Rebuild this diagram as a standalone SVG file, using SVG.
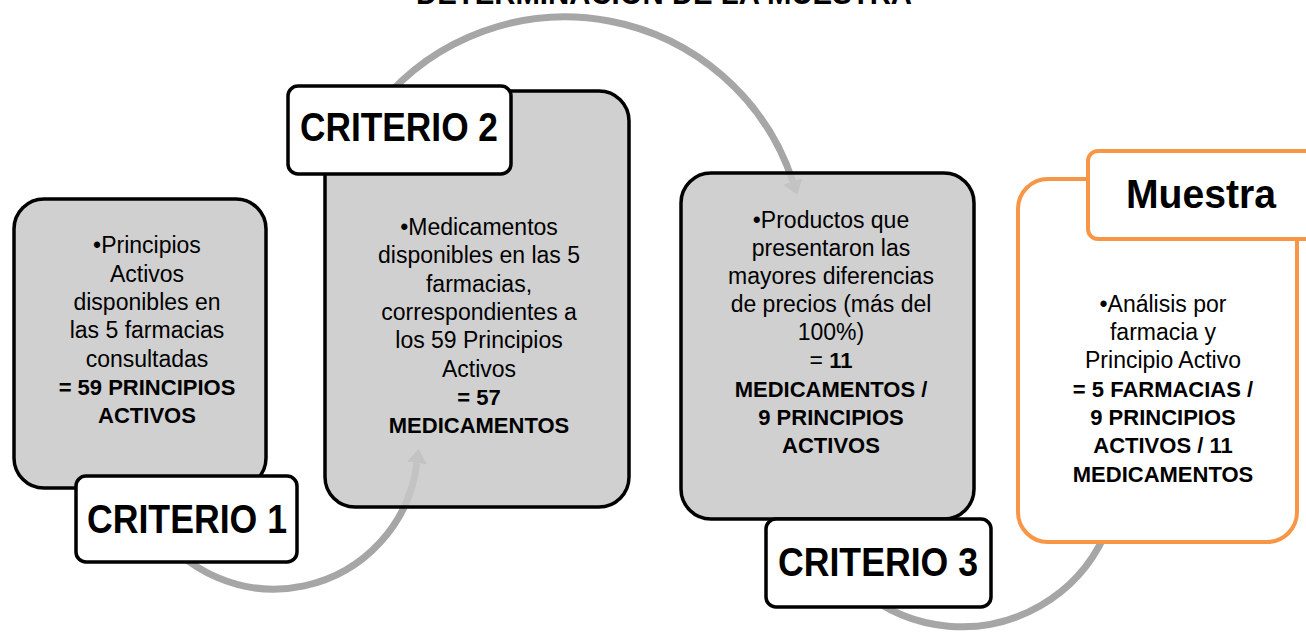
<svg xmlns="http://www.w3.org/2000/svg" width="1306" height="635" viewBox="0 0 1306 635">
<defs>
<style>
text{font-family:"Liberation Sans",Arial,sans-serif;fill:#000;text-anchor:middle}
.r{font-size:23px}
.b{font-size:22px;font-weight:bold}
.h{font-size:41px;font-weight:bold}
.box{fill:#C8C8C8;fill-opacity:0.85;stroke:#000;stroke-width:3.5}
.lab{fill:#fff;stroke:#000;stroke-width:3.5}
.obox{fill:#fff;stroke:#F79646;stroke-width:4}
.arc{fill:none;stroke:#A6A6A6;stroke-width:7}
</style>
<marker id="ah" markerUnits="userSpaceOnUse" markerWidth="14" markerHeight="20" viewBox="0 0 14 20" refX="0" refY="10" orient="auto">
<path d="M0,0 L14,10 L0,20 Z" fill="#A6A6A6"/>
</marker>
</defs>
<rect width="1306" height="635" fill="#fff"/>
<text id="title" x="664" y="3.5" font-size="32" font-weight="bold" textLength="496" lengthAdjust="spacingAndGlyphs">DETERMINACIÓN DE LA MUESTRA</text>
<g id="connectors">
<path class="arc" d="M151,520 A144,144 0 0 0 416.9,463" marker-end="url(#ah)"/>
<path class="arc" d="M380,104 A240,240 0 0 1 792.8,181.5" marker-end="url(#ah)"/>
<path class="arc" d="M861,590 A157,157 0 0 0 1116.6,442.7" marker-end="url(#ah)"/>
</g>
<g id="criterio1">
<rect class="box" x="14" y="199" width="252" height="289" rx="30"/>
<text class="r" x="147" y="253">•Principios</text>
<text class="r" x="147" y="282">Activos</text>
<text class="r" x="147" y="310">disponibles en</text>
<text class="r" x="147" y="338">las 5 farmacias</text>
<text class="r" x="147" y="367">consultadas</text>
<text class="b" x="147" y="395">= 59 PRINCIPIOS</text>
<text class="b" x="147" y="423">ACTIVOS</text>
<rect class="lab" x="76" y="476" width="221" height="86" rx="10"/>
<text class="h" x="187" y="533" textLength="200" lengthAdjust="spacingAndGlyphs">CRITERIO 1</text>
</g>
<g id="criterio2">
<rect class="box" x="325" y="91" width="304" height="416" rx="30"/>
<text class="r" x="479" y="235">•Medicamentos</text>
<text class="r" x="479" y="263">disponibles en las 5</text>
<text class="r" x="479" y="292">farmacias,</text>
<text class="r" x="479" y="320">correspondientes a</text>
<text class="r" x="479" y="348">los 59 Principios</text>
<text class="r" x="479" y="377">Activos</text>
<text class="b" x="479" y="405">= 57</text>
<text class="b" x="479" y="433">MEDICAMENTOS</text>
<rect class="lab" x="288" y="86" width="223" height="88" rx="10"/>
<text class="h" x="399" y="141" textLength="198" lengthAdjust="spacingAndGlyphs">CRITERIO 2</text>
</g>
<g id="criterio3">
<rect class="box" x="681" y="173" width="293" height="346" rx="30"/>
<text class="r" x="831" y="228">•Productos que</text>
<text class="r" x="831" y="256">presentaron las</text>
<text class="r" x="831" y="284">mayores diferencias</text>
<text class="r" x="831" y="312">de precios (más del</text>
<text class="r" x="831" y="340">100%)</text>
<text class="r" x="831" y="368">= <tspan font-weight="bold" font-size="22">11</tspan></text>
<text class="b" x="831" y="397">MEDICAMENTOS /</text>
<text class="b" x="831" y="425">9 PRINCIPIOS</text>
<text class="b" x="831" y="453">ACTIVOS</text>
<rect class="lab" x="766" y="519" width="225" height="88" rx="10"/>
<text class="h" x="878" y="576" textLength="200" lengthAdjust="spacingAndGlyphs">CRITERIO 3</text>
</g>
<g id="muestra">
<rect class="obox" x="1018" y="179" width="279" height="363" rx="30"/>
<text class="r" x="1163" y="312">•Análisis por</text>
<text class="r" x="1163" y="340">farmacia y</text>
<text class="r" x="1163" y="368">Principio Activo</text>
<text class="b" x="1163" y="397">= 5 FARMACIAS /</text>
<text class="b" x="1163" y="425">9 PRINCIPIOS</text>
<text class="b" x="1163" y="453">ACTIVOS / 11</text>
<text class="b" x="1163" y="482">MEDICAMENTOS</text>
<rect class="obox" x="1088" y="151" width="240" height="88" rx="10"/>
<text class="h" x="1201" y="208" font-size="39" textLength="150" lengthAdjust="spacingAndGlyphs">Muestra</text>
</g>
</svg>
